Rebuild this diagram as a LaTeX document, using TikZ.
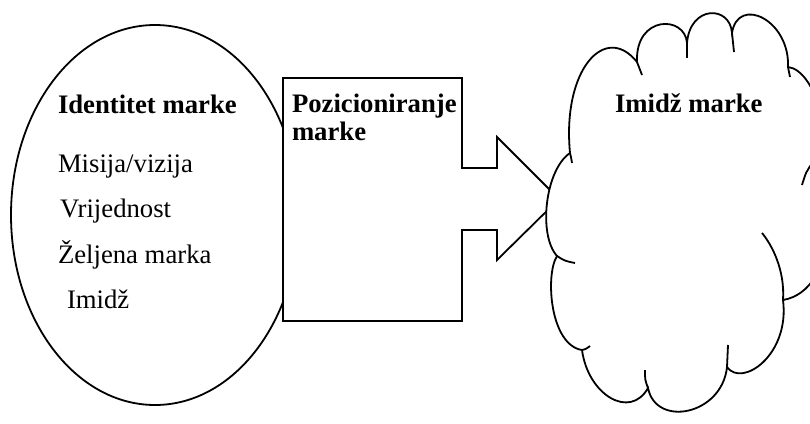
\documentclass[tikz,border=0pt]{standalone}
\usepackage{fontspec}
\setmainfont{Liberation Serif}
\tikzset{
  outline/.style={draw=black, line width=1.8pt, fill=white, line join=miter},
  stub/.style={draw=black, line width=1.8pt},
  txt/.style={anchor=base west, inner sep=0pt, outer sep=0pt, font=\fontsize{26.7}{28}\selectfont},
  btxt/.style={txt, font=\fontsize{26.7}{28}\selectfont\bfseries}
}
\begin{document}
\begin{tikzpicture}[x=1pt,y=-1pt]
\useasboundingbox (0,0) rectangle (810,423);
% ellipse: brand identity
\draw[outline] (155,215) ellipse [x radius=144pt, y radius=190pt];
% positioning block arrow
\draw[outline] (283,78) -- (462,78) -- (462,168) -- (497,168) -- (497,137)
  -- (559,199) -- (497,260) -- (497,230) -- (462,230) -- (462,321)
  -- (283,321) -- cycle;
% cloud: brand image
\coordinate (p1) at (570,153);
\coordinate (p2) at (557,256);
\coordinate (p3) at (582,350);
\coordinate (p4) at (648,388);
\coordinate (p5) at (727,367);
\coordinate (p6) at (783,300);
\coordinate (j7) at (813,162);
\coordinate (p8) at (788,67);
\coordinate (p9) at (732,33);
\coordinate (p10) at (687,43);
\coordinate (p11) at (637,62);
\draw[outline] (p1)
  .. controls (545,170) and (538,235) .. (p2)
  .. controls (545,275) and (550,345) .. (p3)
  .. controls (588,395) and (630,420) .. (p4)
  .. controls (656,428) and (722,415) .. (p5)
  .. controls (742,388) and (790,355) .. (p6)
  .. controls (840,290) and (836,182) .. (j7)
  .. controls (835,140) and (815,70) .. (p8)
  .. controls (790,20) and (738,-5) .. (p9)
  .. controls (730,5) and (690,5) .. (p10)
  .. controls (685,15) and (635,15) .. (p11)
  .. controls (605,22) and (562,70) .. (p1) -- cycle;
% inner arcs of the cloud
\draw[stub] (p1) .. controls (571,157) .. (572,163);
\draw[stub] (p2) .. controls (565,261) .. (575,263);
\draw[stub] (p3) .. controls (586,349) .. (590,346);
\draw[stub] (p4) .. controls (645,380) .. (645,370);
\draw[stub] (p5) .. controls (728,356) .. (728,345);
\draw[stub] (p6) .. controls (785,270) and (772,245) .. (762,233);
\draw[stub] (j7) .. controls (806,172) .. (802,185);
\draw[stub] (p8) .. controls (789,72) .. (790,77);
\draw[stub] (p9) .. controls (733,43) .. (734,52);
\draw[stub] (p10) .. controls (687,50) .. (687,58);
\draw[stub] (p11) .. controls (639,69) .. (642,75);
% texts
\node[btxt] (idt) at (58,113) {Identitet marke};
\node[txt] (mis) at (58,172) {Misija/vizija};
\node[txt] (vri) at (60,217) {Vrijednost};
\node[txt] (zel) at (58,263) {Željena marka};
\node[txt] (imi) at (67,308.5) {Imidž};
\node[btxt] (poz) at (292,112) {Pozicioniranje};
\node[btxt] (mar) at (292,140) {marke};
\node[btxt] (imm) at (615,112) {Imidž marke};
\end{tikzpicture}
\end{document}
